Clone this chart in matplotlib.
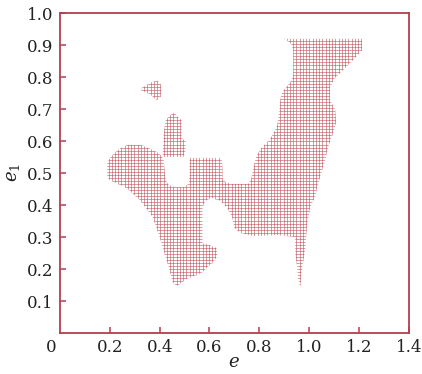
import matplotlib
matplotlib.use("Agg")
import matplotlib.pyplot as plt
import numpy as np
from matplotlib.patches import Polygon
from matplotlib.collections import LineCollection

# outline of the stable region (e, e1)
main_e = [0.19, 0.19, 0.204, 0.224, 0.244, 0.272, 0.324, 0.356, 0.388, 0.408, 0.416,
          0.42, 0.424, 0.436, 0.46, 0.496, 0.516, 0.52, 0.52, 0.648, 0.652, 0.652,
          0.664, 0.688, 0.756, 0.768, 0.776, 0.788, 0.808, 0.84, 0.86, 0.872, 0.88,
          0.884, 0.892, 0.912, 0.928, 0.936, 0.936, 0.928, 0.908, 0.896, 1.212, 1.212,
          1.176, 1.136, 1.10, 1.084, 1.084, 1.104, 1.108, 1.096, 1.076, 1.064, 1.044,
          1.032, 1.024, 1.004, 0.992, 0.988, 0.984, 0.972, 0.964, 0.956, 0.952, 0.944,
          0.944, 0.872, 0.776, 0.724, 0.70, 0.692, 0.672, 0.644, 0.608, 0.584, 0.572,
          0.572, 0.60, 0.628, 0.632, 0.616, 0.592, 0.572, 0.548, 0.508, 0.48, 0.468,
          0.452, 0.44, 0.42, 0.40, 0.372, 0.32, 0.268, 0.232, 0.20]
main_e1 = [0.488, 0.534, 0.55, 0.566, 0.578, 0.588, 0.588, 0.578, 0.566, 0.553, 0.541,
           0.509, 0.478, 0.463, 0.456, 0.456, 0.466, 0.494, 0.547, 0.547, 0.516, 0.484,
           0.472, 0.466, 0.466, 0.484, 0.516, 0.553, 0.578, 0.603, 0.628, 0.65, 0.69,
           0.728, 0.753, 0.772, 0.788, 0.806, 0.884, 0.903, 0.916, 0.919, 0.919, 0.884,
           0.853, 0.822, 0.794, 0.769, 0.728, 0.697, 0.659, 0.625, 0.581, 0.541, 0.488,
           0.456, 0.425, 0.394, 0.338, 0.306, 0.259, 0.206, 0.144, 0.166, 0.206, 0.247,
           0.30, 0.306, 0.303, 0.313, 0.328, 0.359, 0.39, 0.413, 0.422, 0.413, 0.394,
           0.281, 0.275, 0.266, 0.241, 0.222, 0.206, 0.19, 0.181, 0.169, 0.153, 0.147,
           0.159, 0.197, 0.247, 0.30, 0.363, 0.416, 0.453, 0.466, 0.478]

finger_e = [0.424, 0.44, 0.452, 0.464, 0.476, 0.488, 0.488, 0.504, 0.504, 0.496, 0.412, 0.416]
finger_e1 = [0.666, 0.678, 0.688, 0.684, 0.672, 0.666, 0.609, 0.60, 0.572, 0.55, 0.55, 0.619]

blob_e = [0.328, 0.348, 0.368, 0.392, 0.404, 0.408, 0.404, 0.388, 0.36, 0.328]
blob_e1 = [0.766, 0.775, 0.784, 0.788, 0.778, 0.759, 0.738, 0.728, 0.747, 0.756]

regions = [(main_e, main_e1), (finger_e, finger_e1), (blob_e, blob_e1)]

red = "#b3404c"
mesh_col = "#c0505b"

plt.rcParams["font.family"] = "DejaVu Serif"
plt.rcParams["mathtext.fontset"] = "dejavuserif"

fig = plt.figure(figsize=(4.22, 3.74), dpi=100)
ax = fig.add_axes([0.142, 0.1096, 0.827, 0.8556])

# mesh of grid lines, clipped to each region
gx = np.arange(0.0, 1.4, 0.013)
gy = np.arange(0.0, 1.0, 0.0095)
for ex, ey in regions:
    poly = Polygon(np.column_stack([ex, ey]), closed=True, facecolor="none",
                   edgecolor="none")
    ax.add_patch(poly)
    segs = [[(x, 0), (x, 1)] for x in gx] + [[(0, y), (1.4, y)] for y in gy]
    lc = LineCollection(segs, colors=mesh_col, linewidths=0.45, alpha=0.9)
    ax.add_collection(lc)
    lc.set_clip_path(poly)

ax.set_xlim(0, 1.4)
ax.set_ylim(0, 1.0)

ax.set_xticks([0.2, 0.4, 0.6, 0.8, 1.0, 1.2, 1.4])
ax.set_xticklabels(["0.2", "0.4", "0.6", "0.8", "1.0", "1.2", "1.4"])
ax.set_yticks([0.1, 0.2, 0.3, 0.4, 0.5, 0.6, 0.7, 0.8, 0.9, 1.0])
ax.set_yticklabels(["0.1", "0.2", "0.3", "0.4", "0.5", "0.6", "0.7", "0.8", "0.9", "1.0"])
ax.annotate("0", xy=(0, 0), xycoords="axes fraction", xytext=(-6, -4.5),
            textcoords="offset points", ha="center", va="top", fontsize=12,
            color="#222222")

ax.tick_params(direction="in", length=4, width=1.1, color=red, labelsize=12,
               labelcolor="#222222", top=False, right=False)
ax.tick_params(axis="x", pad=4.5)
ax.tick_params(axis="y", pad=5)
for s in ax.spines.values():
    s.set_color(red)
    s.set_linewidth(1.3)

ax.set_xlabel("$e$", fontsize=13, labelpad=-2, color="#222222")
ax.set_ylabel("$e_1$", fontsize=13, labelpad=3, color="#222222")

fig.savefig("out.png", dpi=100)
